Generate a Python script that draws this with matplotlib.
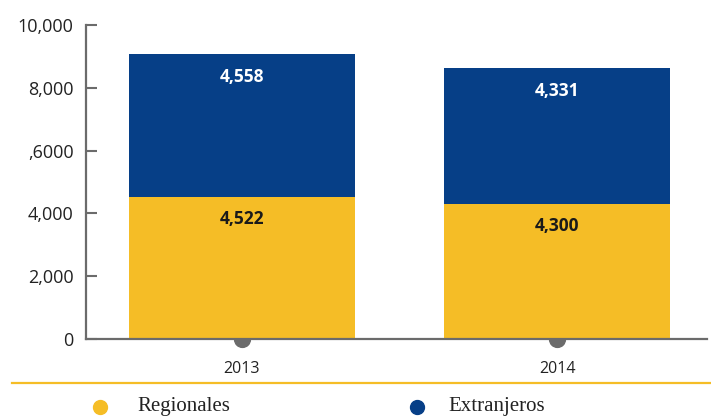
import matplotlib.pyplot as plt
from matplotlib.lines import Line2D

# datos
years = ['2013', '2014']
regionales = [4522, 4300]
extranjeros = [4558, 4331]
ytick_vals = [0, 2000, 4000, 6000, 8000, 10000]
ytick_labels = ['0', '2,000', '4,000', ',6000', '8,000', '10,000']

YELLOW = '#F5BD26'
BLUE = '#063F87'
GREY = '#6B6B6B'

fig = plt.figure(figsize=(7.11, 4.20), dpi=100)
ax = fig.add_axes([86 / 711, 81 / 420, 621 / 711, 314 / 420])

x = list(range(len(years)))
ax.bar(x, regionales, width=0.72, color=YELLOW, zorder=3)
ax.bar(x, extranjeros, width=0.72, bottom=regionales, color=BLUE, zorder=3)

# puntos grises en el eje x
ax.scatter(x, [0] * len(x), s=130, color=GREY, zorder=2, clip_on=False)

for i in x:
    ax.annotate(f"{regionales[i]:,}", (i, regionales[i]), xytext=(0, -22),
                textcoords='offset pixels', ha='center', va='center',
                fontsize=12.5, fontweight='bold', color='#1a1a1a', zorder=4,
                family='Open Sans')
    top = regionales[i] + extranjeros[i]
    ax.annotate(f"{extranjeros[i]:,}", (i, top), xytext=(0, -23),
                textcoords='offset pixels', ha='center', va='center',
                fontsize=12.5, fontweight='bold', color='white', zorder=4,
                family='Open Sans')

ax.set_xlim(-0.495, 1.476)
ax.set_ylim(0, 10000)
ax.set_yticks(ytick_vals)
ax.set_yticklabels(ytick_labels, family='Open Sans', fontsize=13, color='#222222')
ax.set_xticks(x)
ax.set_xticklabels(years, family='Open Sans', fontsize=11.5, color='#222222')
ax.tick_params(axis='y', direction='in', length=8, width=1.5, color=GREY, pad=9)
ax.tick_params(axis='x', length=0, pad=16)

for s in ['top', 'right']:
    ax.spines[s].set_visible(False)
for s in ['left', 'bottom']:
    ax.spines[s].set_color(GREY)
    ax.spines[s].set_linewidth(1.6)
    ax.spines[s].set_zorder(3.5)

# linea amarilla y leyenda
fig.add_artist(Line2D([12 / 711, 1], [37 / 420, 37 / 420], color=YELLOW, lw=1.6,
                      transform=fig.transFigure))
for xd, xt, col, lab in [(100, 137, YELLOW, 'Regionales'), (417, 448, BLUE, 'Extranjeros')]:
    fig.add_artist(Line2D([xd / 711], [13 / 420], marker='o', markersize=10,
                          color=col, linestyle='none', transform=fig.transFigure))
    fig.text(xt / 711, 13 / 420, lab, family='Liberation Serif', fontsize=15,
             color='#222222', va='center', ha='left')

fig.savefig('out.png', dpi=100)
